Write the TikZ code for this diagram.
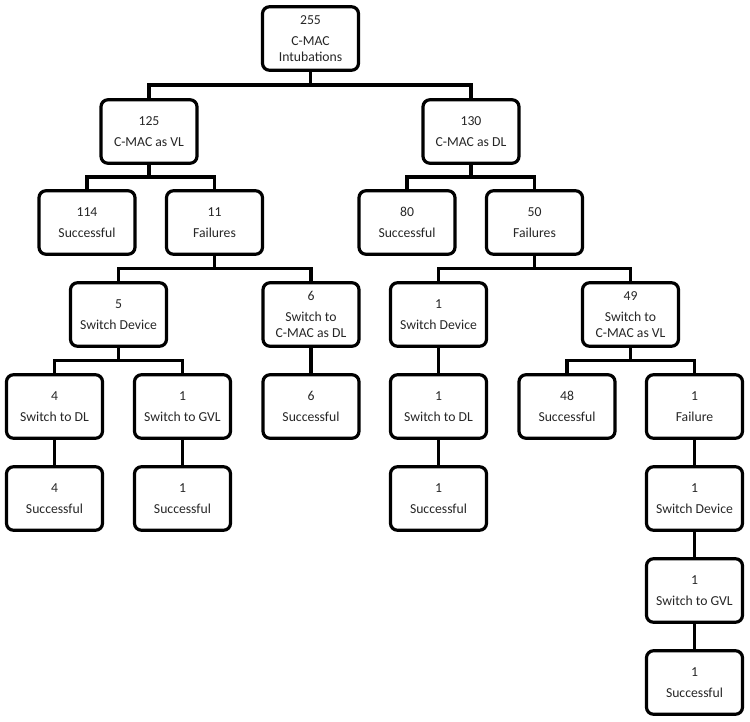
\documentclass[tikz,border=0pt]{standalone}
\usepackage{fontspec}
\setmainfont{Carlito}
\usetikzlibrary{calc}
\begin{document}
\begin{tikzpicture}[x=1pt,y=-1pt,
  box/.style={draw=black,line width=3.2pt,rounded corners=7pt,minimum width=96pt,minimum height=63.5pt,inner sep=0pt,align=center,font=\fontsize{13.7pt}{16pt}\selectfont,text=black!85},
  link/.style={draw=black,line width=3.2pt},
  tree/.style={to path={(\tikztostart) |- ($(\tikztostart)!0.5!(\tikztotarget)$) -| (\tikztotarget)}}]
\useasboundingbox (0,0) rectangle (750,721);
% row 1
\node[box] (root) at (310.5,38.5) {255\\[5pt]C-MAC\\Intubations};
% row 2
\node[box] (vl) at (149,131.5) {125\\[5pt]C-MAC as VL};
\node[box] (dl) at (471,131.5) {130\\[5pt]C-MAC as DL};
% row 3
\node[box] (vls) at (87,222.5) {114\\[5pt]Successful};
\node[box] (vlf) at (214.5,222.5) {11\\[5pt]Failures};
\node[box] (dls) at (407,222.5) {80\\[5pt]Successful};
\node[box] (dlf) at (534.5,222.5) {50\\[5pt]Failures};
% row 4
\node[box] (sda) at (118.5,314.5) {5\\[5pt]Switch Device};
\node[box] (swa) at (311,314.5) {6\\[5pt]Switch to\\C-MAC as DL};
\node[box] (sdb) at (438.5,314.5) {1\\[5pt]Switch Device};
\node[box] (swb) at (630.5,314.5) {49\\[5pt]Switch to\\C-MAC as VL};
% row 5
\node[box] (tdla) at (54.5,406.5) {4\\[5pt]Switch to DL};
\node[box] (tgva) at (182.5,406.5) {1\\[5pt]Switch to GVL};
\node[box] (ssa) at (311,406.5) {6\\[5pt]Successful};
\node[box] (tdlb) at (438.5,406.5) {1\\[5pt]Switch to DL};
\node[box] (ssb) at (567,406.5) {48\\[5pt]Successful};
\node[box] (fb) at (694.5,406.5) {1\\[5pt]Failure};
% row 6
\node[box] (ssc) at (54.5,498.5) {4\\[5pt]Successful};
\node[box] (ssd) at (182.5,498.5) {1\\[5pt]Successful};
\node[box] (sse) at (438.5,498.5) {1\\[5pt]Successful};
\node[box] (sdc) at (694.5,498.5) {1\\[5pt]Switch Device};
% row 7-8
\node[box] (tgvc) at (694.5,590.5) {1\\[5pt]Switch to GVL};
\node[box] (ssf) at (694.5,682.5) {1\\[5pt]Successful};
% connectors
\foreach \p/\c in {root/vl,root/dl,vl/vls,vl/vlf,dl/dls,dl/dlf,vlf/sda,vlf/swa,dlf/sdb,dlf/swb,
  sda/tdla,sda/tgva,swa/ssa,sdb/tdlb,swb/ssb,swb/fb,tdla/ssc,tgva/ssd,tdlb/sse,fb/sdc,sdc/tgvc,tgvc/ssf}
  \draw[link] (\p.south) to[tree] (\c.north);
\end{tikzpicture}
\end{document}
